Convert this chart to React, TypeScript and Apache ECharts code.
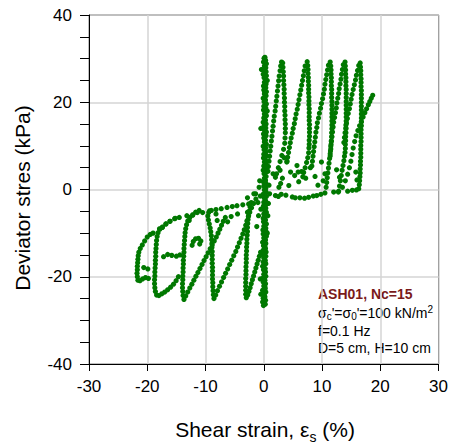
import React, { useEffect, useRef } from 'react';
import * as echarts from 'echarts';

type P = [number, number];

const xTickValues = [-30, -20, -10, 0, 10, 20, 30];
const yTickValues = [-40, -20, 0, 20, 40];

const bandUp: P[] = [[0.25,-26.3],[0.3,-25.4],[0.2,-24.6],[0.35,-23.5],[0.25,-22.7],[0.3,-21.6],[0.2,-20.8],[0.35,-19.9],[0.3,-18.9],[0.25,-18.1],[0.35,-17.0],[0.25,-16.2],[0.35,-15.3],[0.4,-14.3],[0.3,-13.5],[0.35,-12.4],[0.3,-11.6],[0.45,-10.7],[0.4,-9.7],[0.35,-8.9],[0.45,-7.9],[0.3,-7.0],[0.4,-6.1],[0.45,-5.2],[0.35,-4.3],[0.4,-3.3],[0.3,-2.5],[0.45,-1.6],[0.4,-0.6],[0.35,0.3],[0.45,1.2],[0.3,2.1],[0.4,3.0],[0.45,4.0],[0.35,4.9],[0.4,5.8],[0.3,6.7],[0.45,7.7],[0.4,8.6],[0.35,9.5],[0.45,10.4],[0.3,11.3],[0.4,12.3],[0.45,13.2],[0.35,14.1],[0.4,15.0],[0.3,15.9],[0.45,16.9],[0.4,17.8],[0.35,18.7],[0.45,19.6],[0.3,20.5],[0.4,21.5],[0.45,22.4],[0.35,23.3],[0.4,24.2],[0.3,25.1],[0.45,26.1],[0.4,27.0],[0.35,27.9],[0.45,28.8],[0.3,29.6],[0.2,30.3]];
const bandDown: P[] = [[0.05,30.1],[-0.05,29.2],[0.1,28.3],[0.0,27.4],[-0.1,26.4],[0.05,25.6],[0.1,24.6],[-0.05,23.7],[0.0,22.8],[0.1,21.9],[-0.1,20.9],[0.05,20.1],[0.0,19.1],[-0.05,18.2],[0.1,17.3],[0.0,16.4],[-0.1,15.4],[0.05,14.6],[0.1,13.6],[-0.05,12.7],[0.0,11.8],[0.1,10.9],[-0.1,9.9],[0.05,9.1],[0.0,8.1],[-0.05,7.2],[0.1,6.3],[0.0,5.4],[-0.1,4.4],[0.05,3.6],[0.1,2.6],[-0.05,1.7],[0.0,0.8],[0.1,-0.1],[-0.1,-1.1],[0.05,-1.9],[0.0,-2.9],[-0.05,-3.8],[0.1,-4.7],[0.0,-5.6],[-0.1,-6.6],[-0.05,-7.4],[0.0,-8.4],[-0.15,-9.3],[-0.1,-10.2],[0.0,-11.1],[-0.2,-12.1],[-0.05,-12.9],[-0.1,-13.9],[-0.15,-14.8],[0.0,-15.7],[-0.1,-16.6],[-0.2,-17.6],[-0.05,-18.4],[0.0,-19.4],[-0.15,-20.3],[-0.1,-21.2],[0.0,-22.1],[-0.2,-23.1],[-0.05,-23.9],[-0.1,-24.9],[-0.2,-25.8],[-0.05,-26.6]];
const bandMid: P[] = [[0.15,-26.0],[0.1,-24.2],[0.2,-22.3],[0.1,-20.4],[0.15,-18.6],[0.2,-16.7],[0.1,-14.9],[0.2,-13.0],[0.15,-11.2],[0.25,-9.3],[0.15,-7.5],[0.2,-5.6],[0.25,-3.7],[0.15,-1.9],[0.2,0.0],[0.25,1.8],[0.15,3.7],[0.2,5.5],[0.25,7.4],[0.2,9.2],[0.15,11.1],[0.25,12.9],[0.2,14.8],[0.15,16.6],[0.25,18.5],[0.2,20.3],[0.15,22.2],[0.25,24.0],[0.2,25.9],[0.15,27.7],[0.25,29.5]];
const bandExtra: P[] = [[-0.6,-1.5],[0.8,-3.2],[-0.7,2.0],[0.9,1.0],[-0.5,-4.5],[0.7,-6.0],[-0.8,0.5],[1.0,-1.0],[-0.6,-20.5],[-0.5,-24.0],[0.6,-10.0],[-0.5,14.0],[0.6,25.0],[-0.4,27.5],[0.6,18.0]];

const peak1Left: P[] = [[0.72,4.2],[0.8,5.3],[0.9,6.5],[1.0,7.6],[1.1,8.8],[1.2,9.9],[1.3,11.1],[1.4,12.2],[1.5,13.4],[1.6,14.5],[1.7,15.7],[1.8,16.8],[1.95,18.0],[2.05,19.1],[2.15,20.3],[2.25,21.4],[2.35,22.6],[2.45,23.7],[2.55,24.9],[2.65,26.0],[2.8,27.2],[2.9,28.3],[3.05,29.2]];
const peak1Right: P[] = [[3.25,29.0],[3.3,28.0],[3.35,27.0],[3.4,26.0],[3.4,25.0],[3.45,24.0],[3.5,23.0],[3.5,22.0],[3.55,21.0],[3.55,20.0],[3.6,19.0],[3.6,18.0],[3.65,17.0],[3.65,16.0],[3.7,15.0],[3.7,14.0],[3.7,13.0],[3.65,11.8],[3.6,10.6],[3.4,9.2],[3.1,7.8],[2.8,6.4],[2.5,5.0],[2.2,3.6]];
const peak2Left: P[] = [[7.1,28.3],[6.95,27.2],[6.8,26.1],[6.65,25.0],[6.5,23.9],[6.35,22.8],[6.2,21.7],[6.05,20.6],[5.9,19.5],[5.75,18.4],[5.55,17.3],[5.4,16.2],[5.25,15.1],[5.05,14.0],[4.9,12.9],[4.7,11.8],[4.55,10.7],[4.4,9.6],[4.25,8.5],[4.1,7.4],[3.95,6.3]];
const peak2Right: P[] = [[7.45,29.3],[7.55,28.4],[7.6,27.5],[7.6,26.6],[7.65,25.7],[7.65,24.8],[7.7,23.9],[7.7,23.0],[7.7,22.1],[7.75,21.2],[7.75,20.3],[7.75,19.4],[7.8,18.5],[7.8,17.6],[7.8,16.7],[7.8,15.8],[7.85,14.9],[7.85,14.0],[7.85,13.1],[7.85,12.2],[7.8,11.3],[7.8,10.4],[7.75,9.5],[7.7,8.4],[7.55,7.3],[7.35,6.2],[7.1,5.0],[6.85,3.9]];
const peak3Left: P[] = [[11.1,28.5],[10.95,27.4],[10.8,26.3],[10.65,25.2],[10.5,24.1],[10.4,23.0],[10.25,21.9],[10.1,20.8],[9.9,19.7],[9.75,18.6],[9.55,17.5],[9.4,16.4],[9.2,15.3],[9.1,14.2],[8.95,13.1],[8.85,12.0],[8.75,10.9],[8.65,9.8],[8.55,8.7],[8.45,7.6],[8.35,6.5],[8.25,5.4]];
const peak3Right: P[] = [[11.4,29.2],[11.5,28.3],[11.55,27.4],[11.55,26.5],[11.6,25.6],[11.6,24.7],[11.6,23.8],[11.65,22.9],[11.65,22.0],[11.65,21.1],[11.7,20.2],[11.7,19.3],[11.7,18.4],[11.7,17.5],[11.7,16.6],[11.7,15.7],[11.7,14.8],[11.7,13.9],[11.65,13.0],[11.65,12.1],[11.6,11.2],[11.55,10.3],[11.5,9.3],[11.4,8.2],[11.3,7.1],[11.2,6.0],[11.1,4.9],[11.0,3.8],[10.9,2.7],[10.8,1.6],[10.7,0.5]];
const peak4Left: P[] = [[13.65,28.6],[13.5,27.5],[13.35,26.4],[13.25,25.3],[13.1,24.2],[12.95,23.1],[12.85,22.0],[12.7,20.9],[12.55,19.8],[12.45,18.7],[12.3,17.6],[12.15,16.5],[12.0,15.4],[11.9,14.3],[11.8,13.2],[11.7,12.1],[11.6,11.0],[11.5,9.9],[11.45,8.8],[11.4,7.7]];
const peak4Right: P[] = [[13.95,29.2],[14.0,28.3],[14.05,27.4],[14.05,26.5],[14.1,25.6],[14.1,24.7],[14.1,23.8],[14.15,22.9],[14.15,22.0],[14.15,21.1],[14.15,20.2],[14.15,19.3],[14.15,18.4],[14.15,17.5],[14.15,16.6],[14.15,15.7],[14.1,14.8],[14.1,13.9],[14.1,13.0],[14.05,12.1],[14.05,11.2],[14.0,10.3],[14.0,9.4],[13.95,8.5],[13.85,7.6],[13.75,6.6],[13.6,5.5],[13.45,4.4],[13.3,3.2],[13.15,2.0],[13.0,0.8],[12.85,-0.4]];
const peak5Left: P[] = [[16.3,28.4],[16.1,27.3],[15.9,26.2],[15.75,25.1],[15.55,24.0],[15.35,22.9],[15.15,21.8],[15.0,20.7],[14.85,19.6],[14.7,18.5],[14.5,17.4],[14.35,16.3],[14.2,15.2],[14.1,14.1],[13.95,13.0],[13.85,11.9],[13.75,10.8]];
const peak5Right: P[] = [[16.55,29.0],[16.6,28.1],[16.65,27.2],[16.65,26.3],[16.7,25.4],[16.7,24.5],[16.7,23.6],[16.75,22.7],[16.75,21.8],[16.75,20.9],[16.75,20.0],[16.75,19.1],[16.75,18.2],[16.75,17.3],[16.75,16.4],[16.75,15.5],[16.75,14.6],[16.7,13.7],[16.7,12.8],[16.7,11.9],[16.7,11.0],[16.65,10.1],[16.65,9.2],[16.65,8.3],[16.65,7.4],[16.6,6.5],[16.6,5.6],[16.55,4.7],[16.55,3.8],[16.5,2.9],[16.45,2.0],[16.4,1.1],[16.3,0.2]];
const finalLeg: P[] = [[13.5,0.5],[14.0,2.0],[14.4,3.5],[14.7,5.0],[14.95,6.5],[15.15,8.0],[15.35,9.5],[15.6,11.0],[15.85,12.3],[16.15,13.5],[16.45,14.6],[16.75,15.6],[17.05,16.6],[17.35,17.6],[17.65,18.5],[17.95,19.4],[18.2,20.2],[18.45,20.9],[18.7,21.6]];
const posLow: P[] = [[1.6,3.6],[2.0,2.8],[2.8,4.4],[2.6,0.5],[2.9,1.4],[3.2,2.6],[2.0,-1.4],[2.5,-1.6],[3.0,-1.1],[4.3,0.9],[3.8,-1.3],[4.9,-1.7],[5.4,-1.9],[6.2,-1.9],[7.0,-2.0],[7.7,-1.8],[8.5,-1.5],[9.1,-1.4],[9.8,-1.1],[10.5,-0.8],[12.0,-0.6],[12.8,-0.6],[14.4,-0.4],[15.2,-0.2],[15.9,-0.1],[5.7,5.5],[5.9,4.0],[6.5,4.1],[6.7,2.9],[6.0,1.8],[5.3,3.2],[7.2,2.6],[10.5,3.6],[9.9,6.3],[10.2,2.0],[12.5,4.5],[13.0,2.8],[15.8,4.0],[16.0,2.2],[8.0,5.0],[8.8,3.0],[9.3,1.0],[4.0,6.5],[4.6,4.0],[3.5,7.3]];

const valley1Left: P[] = [[-3.0,-24.8],[-3.1,-24.0],[-3.1,-23.1],[-3.1,-22.2],[-3.1,-21.3],[-3.1,-20.4],[-3.05,-19.5],[-3.05,-18.6],[-3.05,-17.7],[-3.0,-16.8],[-3.0,-15.9],[-3.0,-15.0],[-2.95,-14.1],[-2.95,-13.2],[-2.9,-12.3],[-2.9,-11.4],[-2.85,-10.5],[-2.8,-9.6],[-2.8,-8.7],[-2.75,-7.8],[-2.7,-6.9],[-2.6,-6.0],[-2.5,-5.0],[-2.35,-4.0],[-2.15,-3.0]];
const valley1Right: P[] = [[-2.75,-24.2],[-2.55,-23.4],[-2.35,-22.5],[-2.15,-21.6],[-1.95,-20.7],[-1.75,-19.8],[-1.55,-18.9],[-1.35,-18.0],[-1.15,-17.1],[-0.95,-16.2],[-0.75,-15.3],[-0.55,-14.4]];
const valley2Left: P[] = [[-8.55,-25.0],[-8.65,-24.1],[-8.7,-23.2],[-8.75,-22.3],[-8.75,-21.4],[-8.8,-20.5],[-8.8,-19.6],[-8.8,-18.7],[-8.8,-17.8],[-8.85,-16.9],[-8.85,-16.0],[-8.85,-15.1],[-8.85,-14.2],[-8.9,-13.3],[-8.9,-12.4],[-8.95,-11.5],[-9.0,-10.6],[-9.1,-9.7],[-9.2,-8.8],[-9.35,-7.9],[-9.5,-7.0],[-9.6,-6.1],[-9.45,-5.3],[-9.0,-4.8]];
const valley2Right: P[] = [[-8.25,-24.2],[-7.95,-23.2],[-7.6,-22.2],[-7.25,-21.2],[-6.9,-20.2],[-6.55,-19.2],[-6.2,-18.2],[-5.85,-17.2],[-5.5,-16.2],[-5.15,-15.2],[-4.8,-14.2],[-4.5,-13.2],[-4.2,-12.2],[-3.9,-11.2],[-3.6,-10.2],[-3.35,-9.2],[-3.1,-8.2],[-2.9,-7.2],[-2.65,-6.2],[-2.4,-5.2],[-2.1,-4.2],[-1.75,-3.2],[-1.35,-2.2]];
const valley3Left: P[] = [[-13.7,-25.2],[-13.85,-24.3],[-13.9,-23.4],[-13.95,-22.5],[-13.95,-21.6],[-13.9,-20.7],[-13.9,-19.8],[-13.85,-18.9],[-13.85,-18.0],[-13.8,-17.1],[-13.8,-16.2],[-13.75,-15.3],[-13.7,-14.4],[-13.7,-13.5],[-13.65,-12.6],[-13.6,-11.7],[-13.55,-10.8],[-13.5,-9.9],[-13.4,-9.0],[-13.25,-8.1],[-13.05,-7.2],[-12.7,-6.4],[-12.2,-5.9]];
const valley3Right: P[] = [[-13.4,-24.4],[-13.05,-23.5],[-12.7,-22.6],[-12.35,-21.7],[-12.0,-20.8],[-11.65,-19.9],[-11.3,-19.0],[-10.95,-18.1],[-10.6,-17.2],[-10.25,-16.3],[-9.9,-15.4],[-9.55,-14.5],[-9.2,-13.6],[-8.85,-12.7],[-8.5,-11.8],[-8.15,-10.9],[-7.85,-10.0],[-7.55,-9.1],[-7.25,-8.2],[-6.95,-7.3],[-6.6,-6.4]];
const valley4Left: P[] = [[-18.4,-24.2],[-18.6,-23.4],[-18.7,-22.5],[-18.75,-21.6],[-18.75,-20.7],[-18.7,-19.8],[-18.7,-18.9],[-18.65,-18.0],[-18.6,-17.1],[-18.6,-16.2],[-18.55,-15.3],[-18.55,-14.4],[-18.5,-13.5],[-18.45,-12.6],[-18.4,-11.7],[-18.3,-10.8],[-18.15,-9.9],[-17.85,-9.1],[-17.4,-8.6],[-16.8,-7.9],[-16.1,-7.3],[-15.3,-6.7]];
const valley4Right: P[] = [[-18.0,-24.3],[-17.5,-23.9],[-17.0,-23.5],[-16.5,-23.0],[-16.0,-22.4],[-15.5,-21.7],[-15.05,-20.9],[-14.65,-20.0]];
const valley5: P[] = [[-21.6,-20.8],[-21.7,-20.0],[-21.75,-19.2],[-21.7,-18.4],[-21.7,-17.6],[-21.65,-16.8],[-21.6,-16.0],[-21.55,-15.2],[-21.45,-14.4],[-21.2,-13.5],[-20.85,-12.7],[-20.45,-11.8],[-20.0,-10.9],[-19.5,-10.3],[-19.0,-10.0],[-21.25,-20.9],[-20.8,-20.5],[-20.3,-20.2],[-19.8,-20.4]];
const leftMisc: P[] = [[-20.6,-17.9],[-19.9,-18.2],[-17.2,-15.4],[-16.5,-14.9],[-15.8,-15.1],[-15.0,-15.3],[-14.4,-15.0]];
const bump: P[] = [[-12.3,-12.8],[-12.1,-11.9],[-11.7,-11.3],[-11.2,-11.2],[-10.8,-11.8],[-11.0,-12.5]];
const negLow: P[] = [[-1.4,-1.0],[-1.7,-1.0],[-2.6,-3.3],[-2.8,-1.9],[-3.6,-3.5],[-4.6,-3.7],[-5.4,-3.9],[-6.3,-4.1],[-7.3,-4.4],[-8.2,-4.6],[-9.3,-4.9],[-10.5,-5.3],[-11.4,-5.3],[-12.2,-5.8],[-13.2,-6.0],[-14.5,-6.4],[-15.2,-6.6],[-16.1,-7.3],[-16.8,-7.9],[-17.4,-8.7],[-17.9,-9.0],[-8.0,-7.1],[-8.2,-5.6],[-6.2,-7.4],[-5.6,-6.2],[-4.5,-5.6],[-2.8,-5.2],[-1.0,-3.0],[-0.9,-6.0],[-1.2,-8.5],[-12.8,-7.1],[-11.7,-5.2],[-11.1,-4.8]];

const allPoints: P[] = [
  ...bandUp, ...bandDown, ...bandMid, ...bandExtra,
  ...peak1Left, ...peak1Right, ...peak2Left, ...peak2Right, ...peak3Left, ...peak3Right,
  ...peak4Left, ...peak4Right, ...peak5Left, ...peak5Right, ...finalLeg, ...posLow,
  ...valley1Left, ...valley1Right, ...valley2Left, ...valley2Right, ...valley3Left, ...valley3Right,
  ...valley4Left, ...valley4Right, ...valley5, ...leftMisc, ...bump, ...negLow,
];

const FONT = '"Liberation Sans", Arial, sans-serif';

export default function App() {
  const ref = useRef<HTMLDivElement>(null);
  useEffect(() => {
    if (!ref.current) return;
    const chart = echarts.init(ref.current, null, { renderer: 'svg' });
    const axisText = { fontSize: 17, color: '#000', fontFamily: FONT };
    chart.setOption({
      animation: false,
      grid: { left: 89, right: 9, top: 15, bottom: 81, show: true, borderColor: '#000', borderWidth: 1, backgroundColor: 'transparent' },
      xAxis: {
        type: 'value', min: xTickValues[0], max: xTickValues[xTickValues.length - 1], interval: 10,
        axisLine: { show: true, onZero: false, lineStyle: { color: '#000', width: 1 } },
        axisTick: { show: true, length: 7, lineStyle: { color: '#000' } },
        axisLabel: { ...axisText, margin: 14 },
        splitLine: { show: true, lineStyle: { color: '#d4d4d4', width: 1.5 } },
      },
      yAxis: {
        type: 'value', min: yTickValues[0], max: yTickValues[yTickValues.length - 1], interval: 20,
        axisLine: { show: true, onZero: false, lineStyle: { color: '#000', width: 1 } },
        axisTick: { show: true, length: 9, lineStyle: { color: '#000' } },
        minorTick: { show: true, splitNumber: 4, length: 9, lineStyle: { color: '#000' } },
        axisLabel: { ...axisText, margin: 17 },
        splitLine: { show: true, lineStyle: { color: '#d4d4d4', width: 1.5 } },
      },
      series: [{
        type: 'scatter', data: allPoints, symbol: 'circle', symbolSize: 5.2,
        itemStyle: { color: '#007800', opacity: 1 },
      }],
      graphic: [
        {
          type: 'text', x: 265, y: 429,
          style: {
            text: 'Shear strain, {e|ε}{s|s} (%)',
            font: `21px ${FONT}`, fill: '#000', align: 'center', verticalAlign: 'middle',
            textAlign: 'center', textVerticalAlign: 'middle',
            rich: {
              e: { fontSize: 21, fontFamily: FONT, fill: '#000', lineHeight: 24 },
              s: { fontSize: 14, fontFamily: FONT, fill: '#000', lineHeight: 30, verticalAlign: 'bottom' },
            },
          },
        },
        {
          type: 'text', x: 22, y: 198, rotation: Math.PI / 2,
          style: {
            text: 'Deviator stres (kPa)', font: `21px ${FONT}`, fill: '#000',
            align: 'center', verticalAlign: 'middle', textAlign: 'center', textVerticalAlign: 'middle',
          },
        },
        {
          type: 'text', x: 318, y: 294,
          style: {
            text: 'ASH01, Nc=15', font: `bold 14px ${FONT}`, fill: '#7a1a1a',
            align: 'left', verticalAlign: 'middle', textAlign: 'left', textVerticalAlign: 'middle',
          },
        },
        {
          type: 'text', x: 318, y: 313,
          style: {
            text: 'σ{sb|c}\'=σ{sb|0}\'=100 kN/m{sp|2}', font: `14px ${FONT}`, fill: '#000',
            align: 'left', verticalAlign: 'middle', textAlign: 'left', textVerticalAlign: 'middle',
            rich: {
              sb: { fontSize: 10, fontFamily: FONT, fill: '#000', lineHeight: 17, verticalAlign: 'bottom' },
              sp: { fontSize: 10, fontFamily: FONT, fill: '#000', lineHeight: 17, verticalAlign: 'top' },
            },
          },
        },
        {
          type: 'text', x: 318, y: 331,
          style: {
            text: 'f=0.1 Hz', font: `14px ${FONT}`, fill: '#000',
            align: 'left', verticalAlign: 'middle', textAlign: 'left', textVerticalAlign: 'middle',
          },
        },
        {
          type: 'text', x: 318, y: 348,
          style: {
            text: 'D=5 cm, H=10 cm', font: `14px ${FONT}`, fill: '#000',
            align: 'left', verticalAlign: 'middle', textAlign: 'left', textVerticalAlign: 'middle',
          },
        },
      ],
    });
    return () => chart.dispose();
  }, []);
  return <div ref={ref} style={{ width: 451, height: 445, position: 'absolute', left: 0, top: 0 }} />;
}
